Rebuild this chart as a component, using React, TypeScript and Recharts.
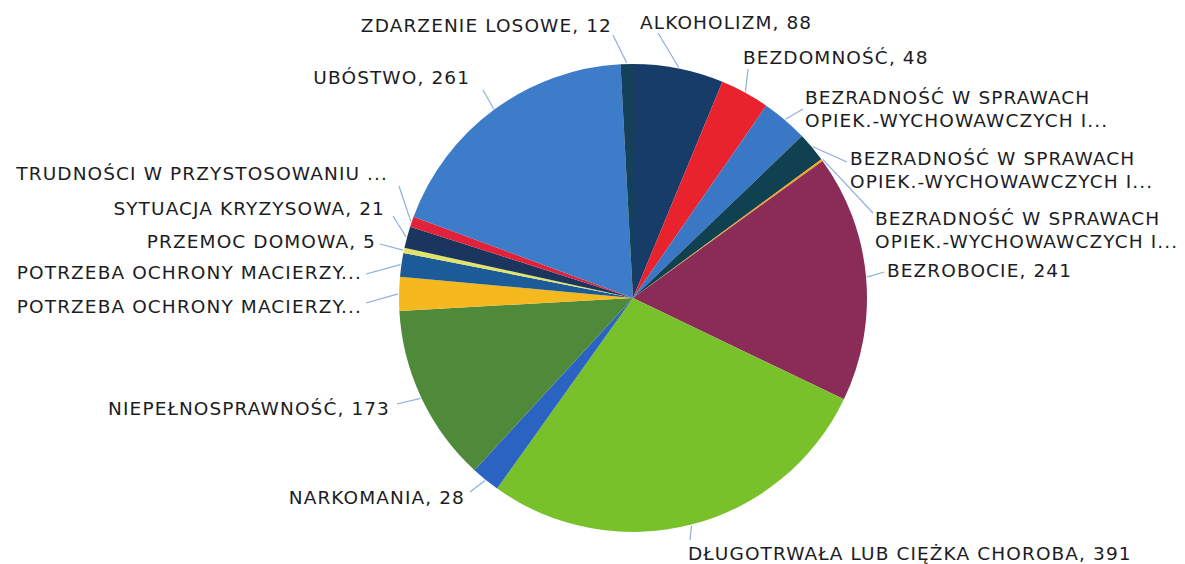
import { Cell, Pie, PieChart } from 'recharts';

const categories = [
  'ALKOHOLIZM',
  'BEZDOMNOŚĆ',
  'BEZRADNOŚĆ W SPRAWACH OPIEK.-WYCHOWAWCZYCH I...',
  'BEZRADNOŚĆ W SPRAWACH OPIEK.-WYCHOWAWCZYCH I...',
  'BEZRADNOŚĆ W SPRAWACH OPIEK.-WYCHOWAWCZYCH I...',
  'BEZROBOCIE',
  'DŁUGOTRWAŁA LUB CIĘŻKA CHOROBA',
  'NARKOMANIA',
  'NIEPEŁNOSPRAWNOŚĆ',
  'POTRZEBA OCHRONY MACIERZY...',
  'POTRZEBA OCHRONY MACIERZY...',
  'PRZEMOC DOMOWA',
  'SYTUACJA KRYZYSOWA',
  'TRUDNOŚCI W PRZYSTOSOWANIU ...',
  'UBÓSTWO',
  'ZDARZENIE LOSOWE',
];

const values = [88, 48, 45, 29, 2, 241, 391, 28, 173, 33, 23, 5, 21, 10, 261, 12];

const colors = [
  '#183c68', '#e8232d', '#3a78c6', '#0f4150', '#f2a51e', '#8b2b57',
  '#79c12b', '#2a63c1', '#4f8a3b', '#f5b91f', '#1b5b98', '#e3e36a',
  '#1a365f', '#e0233b', '#3d7cc8', '#14405a',
];

// label placement (chart coords): text anchor point, text anchor side, leader end
const labelLayout = [
  { x: 632, y: 14, anchor: 'start', lx: 650, ly: 25 },
  { x: 735, y: 49, anchor: 'start', lx: 740, ly: 61 },
  { x: 797, y: 89, anchor: 'start', lx: 795, ly: 101 },
  { x: 842, y: 150, anchor: 'start', lx: 839, ly: 154 },
  { x: 867, y: 210, anchor: 'start', lx: 865, ly: 205 },
  { x: 879, y: 262, anchor: 'start', lx: 876, ly: 264 },
  { x: 680, y: 545, anchor: 'start', lx: 682, ly: 532 },
  { x: 457, y: 489, anchor: 'end', lx: 462, ly: 484 },
  { x: 382, y: 400, anchor: 'end', lx: 389, ly: 396 },
  { x: 354, y: 298, anchor: 'end', lx: 358, ly: 295 },
  { x: 354, y: 264, anchor: 'end', lx: 358, ly: 266 },
  { x: 368, y: 233, anchor: 'end', lx: 372, ly: 236 },
  { x: 377, y: 200, anchor: 'end', lx: 385, ly: 208 },
  { x: 380, y: 165, anchor: 'end', lx: 391, ly: 178 },
  { x: 462, y: 69, anchor: 'end', lx: 475, ly: 82 },
  { x: 604, y: 17, anchor: 'end', lx: 605, ly: 27 },
];

const data = categories.map((name, i) => ({ name, value: values[i] }));

const RAD = Math.PI / 180;

function labelLines(name: string, value: number): string[] {
  if (name.startsWith('BEZRADNOŚĆ')) return ['BEZRADNOŚĆ W SPRAWACH', 'OPIEK.-WYCHOWAWCZYCH I...'];
  if (name.endsWith('...')) return [name];
  return [`${name}, ${value}`];
}

function renderLabel(props: any) {
  const { cx, cy, midAngle, outerRadius, index, name, value } = props;
  const l = labelLayout[index];
  const sx = cx + (outerRadius + 1) * Math.cos(-midAngle * RAD);
  const sy = cy + (outerRadius + 1) * Math.sin(-midAngle * RAD);
  const lines = labelLines(name, value);
  return (
    <g key={`lbl-${index}`}>
      <line x1={sx} y1={sy} x2={l.lx} y2={l.ly} stroke="#8eaee0" strokeWidth={1.2} />
      <text
        x={l.x}
        y={l.y}
        textAnchor={l.anchor}
        fill="#1c1c24"
        fontSize={18.5}
        letterSpacing={1.1}
        fontFamily="'DejaVu Sans', sans-serif"
        dominantBaseline="central"
      >
        {lines.map((t, k) => (
          <tspan key={k} x={l.x} dy={k === 0 ? 0 : 23}>
            {t}
          </tspan>
        ))}
      </text>
    </g>
  );
}

export default function App() {
  return (
    <div style={{ width: 1177, height: 556, background: '#fff' }}>
      <PieChart width={1177} height={556}>
        <Pie
          data={data}
          dataKey="value"
          nameKey="name"
          cx={620}
          cy={285}
          outerRadius={234}
          startAngle={90}
          endAngle={-270}
          stroke="none"
          label={renderLabel}
          labelLine={false}
          isAnimationActive={false}
        >
          {data.map((_, i) => (
            <Cell key={i} fill={colors[i]} />
          ))}
        </Pie>
      </PieChart>
    </div>
  );
}
